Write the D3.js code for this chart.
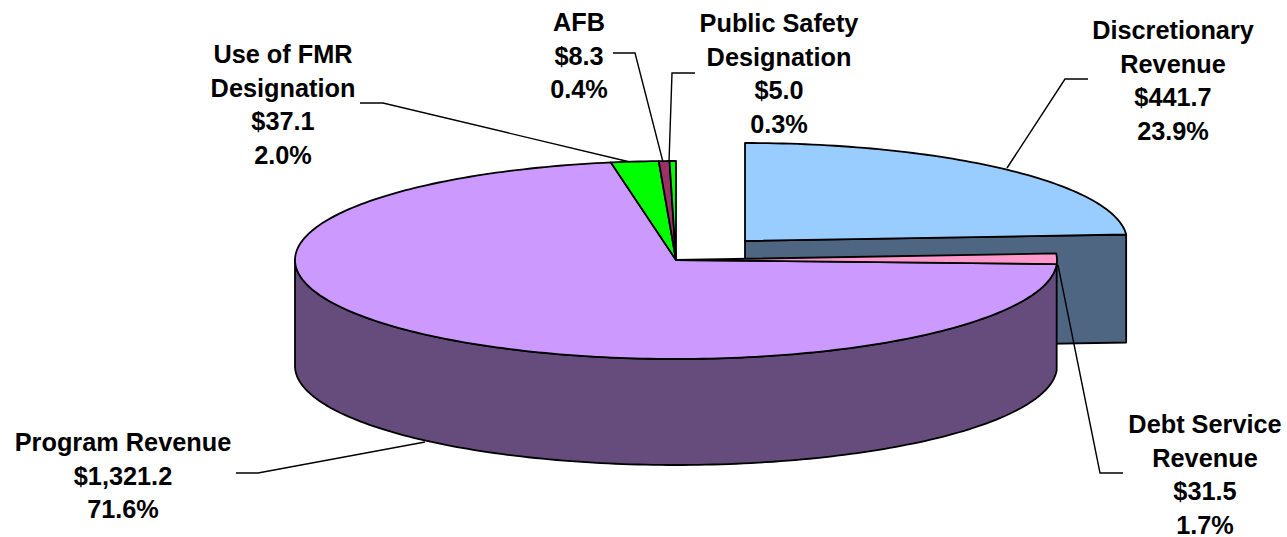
<!DOCTYPE html>
<html><head><meta charset="utf-8">
<script src="https://cdn.jsdelivr.net/npm/d3@7"></script>
<style>html,body{margin:0;background:#fff}svg{display:block}
text{font-family:"Liberation Sans",Arial,sans-serif;font-weight:700;font-size:25.3px;fill:#000;text-anchor:middle}</style>
</head><body><svg id="c" width="1287" height="537"></svg>
<script>
const categories=["Discretionary Revenue","Debt Service Revenue","Program Revenue","Use of FMR Designation","AFB","Public Safety Designation"];
const values=[441.7,31.5,1321.2,37.1,8.3,5.0];
const topColors=["#99ccff","#ff99cc","#cc99ff","#00ff00","#993366","#00ff00"];
const sideColors=["#4f6682","#a0607f","#654c7d","#009900","#602040","#009900"];
const labelLines=[["Discretionary","Revenue","$441.7","23.9%"],["Debt Service","Revenue","$31.5","1.7%"],["Program Revenue","$1,321.2","71.6%"],["Use of FMR","Designation","$37.1","2.0%"],["AFB","$8.3","0.4%"],["Public Safety","Designation","$5.0","0.3%"]];
const labelX=[1173,1205,123,283,579,779];
const labelY=[39,433,451,63,31,32];
const leaders=[[[1007,168],[1065,79],[1088,79]],[[1058,265],[1100,473],[1123,473]],[[425,442],[258,473],[236,473]],[[630,162],[383,103],[360,103]],[[663,162],[635,53],[613,53]],[[669,162],[672,73],[695,73]]];

const svg=d3.select("#c");
const arcs=d3.pie().sort(null).value(d=>d)(values);
const C={x:676,y:260,rx:381,ry:99,depth:106};
const O={x:745,y:241,rx:382,ry:98,depth:108};
const pt=(g,a,dy=0)=>[g.x+g.rx*Math.sin(a),g.y-g.ry*Math.cos(a)+dy];
const line=d3.line();
const stroke={stroke:"#000","stroke-width":1.8,"stroke-linejoin":"round"};
function styled(sel,fill){sel.attr("fill",fill);Object.entries(stroke).forEach(([k,v])=>sel.attr(k,v));return sel;}
function wall(a0,a1,g,fill){
  const n=Math.max(2,Math.ceil((a1-a0)/0.02)),as=d3.range(n+1).map(i=>a0+(a1-a0)*i/n);
  const pts=as.map(a=>pt(g,a)).concat(as.slice().reverse().map(a=>pt(g,a,g.depth)));
  styled(svg.append("path").attr("d",line(pts)+"Z"),fill);
}
function wedge(a,g,fill){
  const n=Math.max(2,Math.ceil((a.endAngle-a.startAngle)/0.02));
  const pts=[[g.x,g.y]].concat(d3.range(n+1).map(i=>pt(g,a.startAngle+(a.endAngle-a.startAngle)*i/n)));
  styled(svg.append("path").attr("d",line(pts)+"Z"),fill);
}
const d0=arcs[0];
styled(svg.append("path").attr("d",line([[O.x,O.y],pt(O,d0.endAngle),pt(O,d0.endAngle,O.depth),[O.x,O.y+O.depth]])+"Z"),sideColors[0]);
wedge(d0,O,topColors[0]);
wall(arcs[2].startAngle,Math.PI*1.5,C,sideColors[2]);
[2,1,3,4,5].forEach(i=>wedge(arcs[i],C,topColors[i]));
leaders.forEach(l=>svg.append("path").attr("d",line(l)).attr("fill","none").attr("stroke","#000").attr("stroke-width",1.4));
categories.forEach((c,i)=>{
  labelLines[i].forEach((s,j)=>svg.append("text").attr("x",labelX[i]).attr("y",labelY[i]+j*33.5).text(s));
});
</script></body></html>
